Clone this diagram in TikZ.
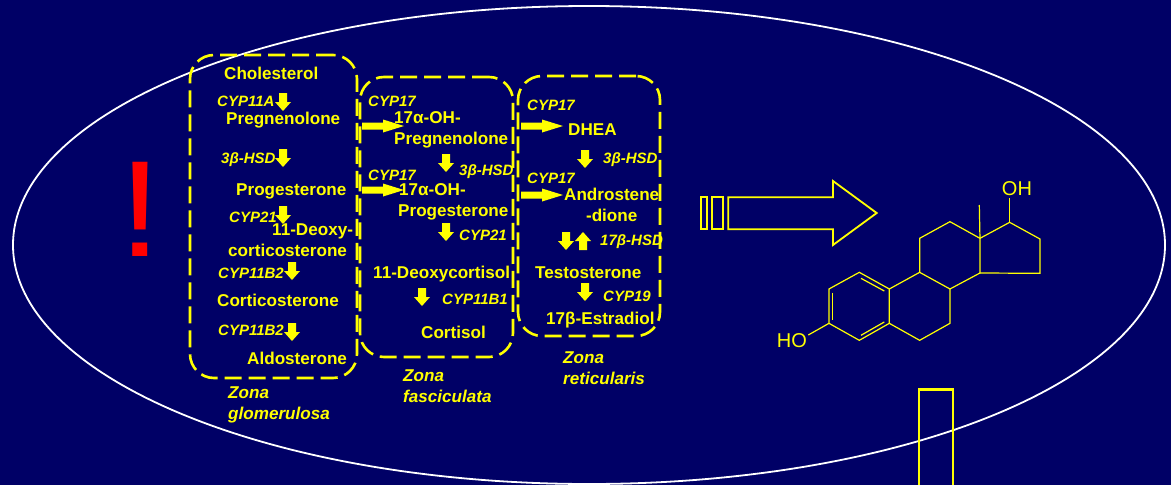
\documentclass[tikz,border=0pt]{standalone}
\usepackage{fontspec}
\usetikzlibrary{shapes.geometric}
\setmainfont{Liberation Sans}
\definecolor{navy}{RGB}{0,0,102}
\definecolor{yel}{RGB}{255,255,0}
\tikzset{
  x=1pt,y=-1pt,
  compound/.style={anchor=base west,inner sep=0pt,text=yel,font=\fontsize{17.1}{21}\selectfont\bfseries,align=left},
  enzyme/.style={anchor=base west,inner sep=0pt,text=yel,font=\fontsize{15}{19}\selectfont\bfseries\itshape},
  zonelabel/.style={anchor=base west,inner sep=0pt,text=yel,font=\fontsize{17.1}{21}\selectfont\bfseries\itshape,align=left},
  zonebox/.style={draw=yel,line width=2.6pt,rounded corners=24pt,dash pattern=on 17pt off 7pt},
  chem/.style={draw=yel,line width=1.2pt,line join=miter},
  chemtext/.style={inner sep=0pt,text=yel,font=\fontsize{20}{24}\selectfont},
  outline/.style={draw=yel,line width=1.8pt},
  dnarrow/.pic={\fill[yel] (-4,0)--(4,0)--(4,9)--(8,9)--(0,18)--(-8,9)--(-4,9)--cycle;},
  uparrow/.pic={\fill[yel] (-4,0)--(4,0)--(4,-9)--(8,-9)--(0,-18)--(-8,-9)--(-4,-9)--cycle;},
  rtarrow/.pic={\fill[yel] (0,-3.5)--(21,-3.5)--(21,-6.5)--(42,0)--(21,6.5)--(21,3.5)--(0,3.5)--cycle;}
}
\begin{document}
\begin{tikzpicture}
\useasboundingbox (0,0) rectangle (1171,485);
\clip (0,0) rectangle (1171,485);
\fill[navy] (0,0) rectangle (1171,485);
\node[draw=white,line width=1.8pt,ellipse,minimum width=1152pt,minimum height=478pt,inner sep=0pt] (cell) at (589,245) {};
\node[text=red,inner sep=0pt,font=\fontsize{137}{137}\selectfont] (bang) at (140.5,209.5) {\scalebox{1.15}[1]{!}};

\node[zonebox,minimum width=167pt,minimum height=323pt,inner sep=0pt] (zg) at (273.5,216.5) {};
\node[zonebox,minimum width=153pt,minimum height=280pt,inner sep=0pt] (zf) at (436.5,217) {};
\node[zonebox,minimum width=142pt,minimum height=260pt,inner sep=0pt] (zr) at (589,206) {};

% zona glomerulosa
\node[compound] (chol) at (224,79) {Cholesterol};
\node[compound] (preg) at (226,124) {Pregnenolone};
\node[compound] (prog) at (236,195) {Progesterone};
\node[compound,align=right] (doc) at (228,256) {11-Deoxy-\\corticosterone\hspace*{6pt}};
\node[compound] (cort) at (217,306) {Corticosterone};
\node[compound] (aldo) at (247,364) {Aldosterone};
\node[enzyme] (e1) at (217,106) {CYP11A};
\node[enzyme] (e2) at (221,163) {3\textbf{β}-HSD};
\node[enzyme] (e3) at (229,222) {CYP21};
\node[enzyme] (e4) at (218,278) {CYP11B2};
\node[enzyme] (e5) at (218,335) {CYP11B2};
\pic at (283,93) {dnarrow};
\pic at (283,149) {dnarrow};
\pic at (283,206) {dnarrow};
\pic at (292,262) {dnarrow};
\pic at (292,323) {dnarrow};
\node[zonelabel] (l1) at (228,419) {Zona\\glomerulosa};

% zona fasciculata
\node[enzyme] (f1) at (368,106) {CYP17};
\node[compound] (ohp) at (394,144) {17α-OH-\\Pregnenolone};
\node[enzyme] (f2) at (459,175) {3\textbf{β}-HSD};
\node[enzyme] (f3) at (368,180) {CYP17};
\node[compound] (ohg) at (399,216) {17α-OH-\\\hspace*{-1pt}Progesterone};
\node[enzyme] (f4) at (459,240) {CYP21};
\node[compound] (dc) at (373,278) {11-Deoxycortisol};
\node[enzyme] (f5) at (442,304) {CYP11B1};
\node[compound] (cl) at (421,338) {Cortisol};
\pic at (362,126) {rtarrow};
\pic at (362,190) {rtarrow};
\pic at (446,154) {dnarrow};
\pic at (446,223) {dnarrow};
\pic at (422,288) {dnarrow};
\node[zonelabel] (l2) at (403,402) {Zona\\fasciculata};

% zona reticularis
\node[enzyme] (r1) at (527,110) {CYP17};
\node[compound] (dhea) at (568,135) {DHEA};
\node[enzyme] (r2) at (603,163) {3\textbf{β}-HSD};
\node[enzyme] (r3) at (527,183) {CYP17};
\node[compound,align=center] (andro) at (564,221) {Androstene\\-dione};
\node[enzyme] (r4) at (600,245) {17\textbf{β}-HSD};
\node[compound] (testo) at (535,278) {Testosterone};
\node[enzyme] (r5) at (603,301) {CYP19};
\node[compound] (estr) at (546,324) {17β-Estradiol};
\pic at (521,126) {rtarrow};
\pic at (521,195) {rtarrow};
\pic at (585,150) {dnarrow};
\pic at (566,232) {dnarrow};
\pic at (583,250) {uparrow};
\pic at (585,283) {dnarrow};
\node[zonelabel] (l3) at (563,384) {Zona\\reticularis};

% outline arrow and bars
\draw[outline] (700.7,197) rectangle (707,229);
\draw[outline] (711.7,197) rectangle (723.3,229);
\draw[outline] (728.3,197.3)--(833,197.3)--(833,181)--(876.7,213)--(833,245)--(833,229.3)--(728.3,229.3)--cycle;
\draw[draw=yel,line width=2.8pt] (919,500)--(919,389.5)--(953,389.5)--(953,500);

% estradiol
\begin{scope}[shift={(690,170)},x=0.3333pt,y=-0.3333pt]
\coordinate (a1) at (417,357); \coordinate (a2) at (508,307); \coordinate (a3) at (598,357);
\coordinate (a4) at (598,460); \coordinate (a5) at (508,511); \coordinate (a6) at (417,460);
\coordinate (b1) at (689,307); \coordinate (b2) at (780,357); \coordinate (b3) at (780,460); \coordinate (b4) at (689,511);
\coordinate (c1) at (689,205); \coordinate (c2) at (780,155); \coordinate (c3) at (870,205); \coordinate (c4) at (870,309);
\coordinate (d1) at (959,157); \coordinate (d2) at (1050,207); \coordinate (d3) at (1050,310);
\coordinate (me) at (868,105); \coordinate (ohb) at (959,85); \coordinate (hob) at (355,495);
\node[chemtext] (oh) at (981,57) {OH};
\node[chemtext] (ho) at (306,513) {HO};
\draw[chem] (a1)--(a2)--(a3)--(a4)--(a5)--(a6)--cycle;
\draw[chem] (a3)--(b1)--(b2)--(b3)--(b4)--(a4);
\draw[chem] (b1)--(c1)--(c2)--(c3)--(c4)--(b2);
\draw[chem] (c3)--(d1)--(d2)--(d3)--(c4);
\draw[chem] (c3)--(me);
\draw[chem] (d1)--(ohb);
\draw[chem] (a6)--(hob);
\draw[chem] (428,368)--(428,450);
\draw[chem] (513,325)--(583,363);
\draw[chem] (513,496)--(583,456);
\end{scope}
\end{tikzpicture}
\end{document}
